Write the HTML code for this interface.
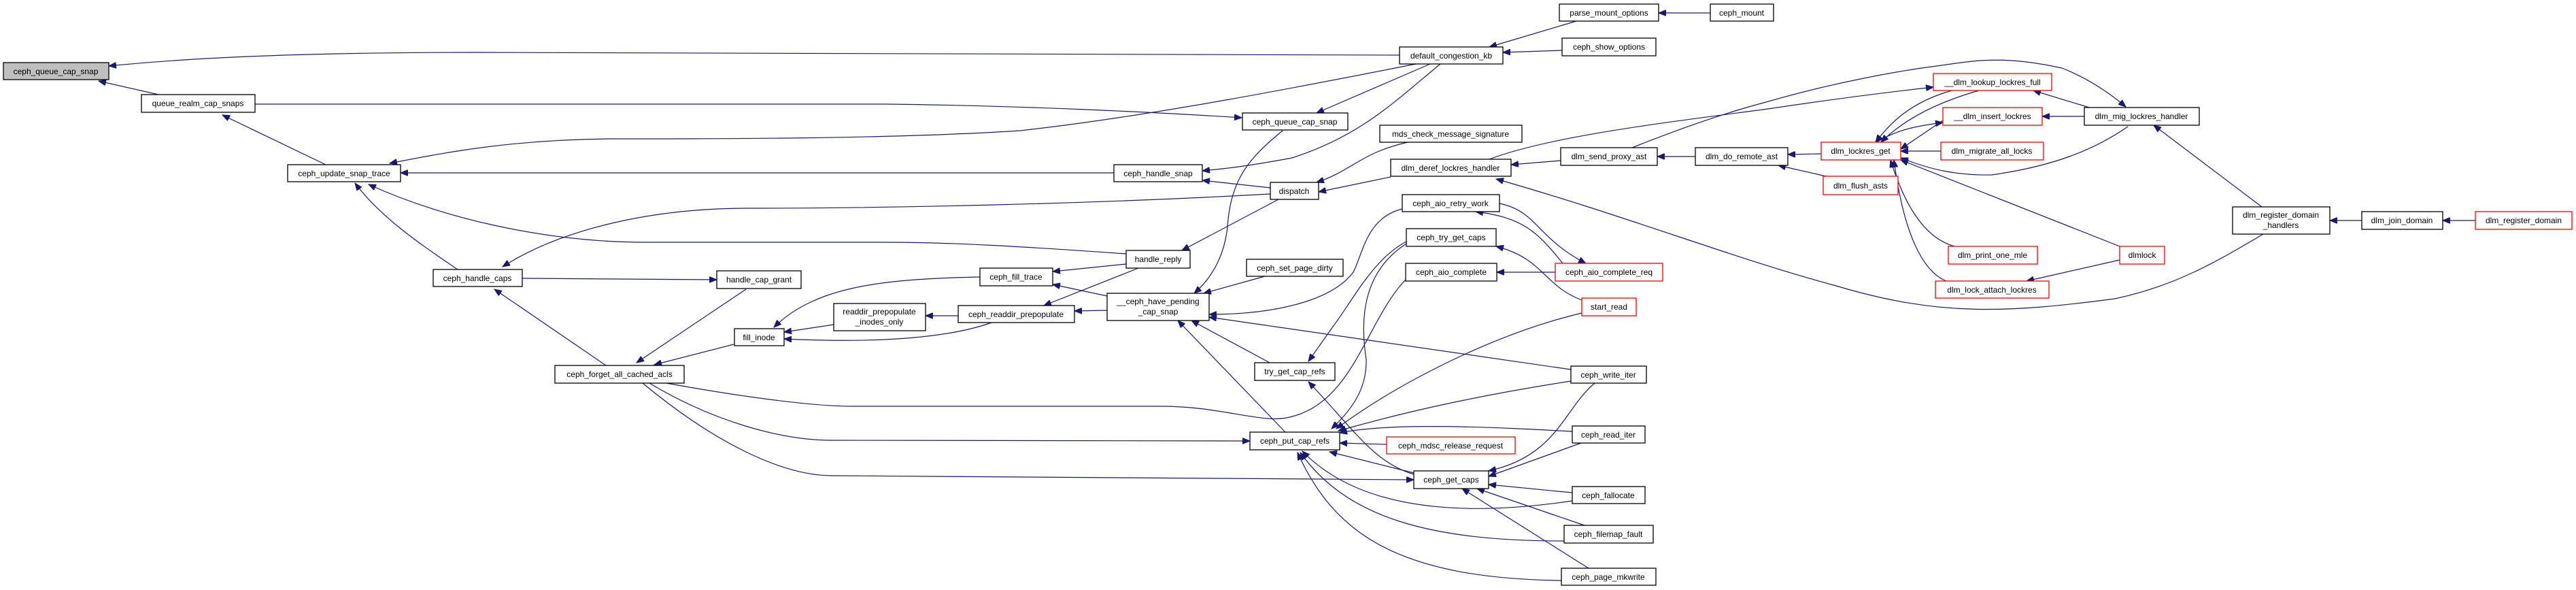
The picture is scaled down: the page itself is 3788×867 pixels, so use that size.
<!DOCTYPE html>
<html><head><meta charset="utf-8"><style>
html,body{margin:0;padding:0;background:#fff;}
svg{display:block;}
text{font-family:"Liberation Sans",Arial,sans-serif;font-size:12px;fill:#000;text-anchor:middle;}
.e{stroke:#191970;stroke-width:1.2;fill:none;}
.eh{stroke:#191970;stroke-width:1.2;fill:none;marker-end:url(#a);}
.n{fill:#fff;stroke:#000;stroke-width:1.3;}
.r{fill:#fff;stroke:#ff0000;stroke-width:1.3;}
.g{fill:#bfbfbf;stroke:#000;stroke-width:1.3;}
</style></head><body>
<svg width="3788" height="867" viewBox="0 0 3788 867" xmlns="http://www.w3.org/2000/svg">
<defs><marker id="a" markerUnits="userSpaceOnUse" markerWidth="12" markerHeight="9" refX="11" refY="4.5" orient="auto"><path d="M0,0 L11,4.5 L0,9 z" fill="#191970" stroke="#191970"/></marker></defs>

<path class="eh" d="M2058,81 L700,77 C400,77 250,88 160,97"/>
<path class="eh" d="M233,139 L145,119"/>
<path class="eh" d="M375,153 L1300,153 C1500,155 1700,165 1826,173"/>
<path class="eh" d="M479,242 L327,169"/>
<path class="eh" d="M2082,94 C1950,120 1700,170 1500,192 C1300,205 1000,204 900,204 C750,205 650,225 573,240"/>
<path class="eh" d="M1638,254 L589,254"/>
<path class="eh" d="M1656,373 C1500,362 1400,356 1300,356 L950,356 C800,356 650,320 542,271"/>
<path class="eh" d="M673,396 C620,360 560,320 522,269"/>
<path class="eh" d="M1868,285 C1600,300 1300,306 1100,306 C950,306 820,340 739,392"/>
<path class="eh" d="M768,409 L1054,411"/>
<path class="eh" d="M891,537 L727,425"/>
<path class="eh" d="M1097,425 L936,533"/>
<path class="eh" d="M1079,506 L962,536"/>
<path class="e" d="M980,563 C1100,585 1200,597 1253,597 L1708,597 C1800,597 1860,625 1900,612 C1990,590 2010,470 2067,411"/>
<path class="eh" d="M955,563 C1050,620 1150,647 1223,647 L1838,648"/>
<path class="eh" d="M945,563 C1050,650 1150,699 1223,699 L2079,705"/>
<path class="eh" d="M1226,477 L1153,488"/>
<path class="eh" d="M1441,407 C1300,410 1200,420 1138,481"/>
<path class="eh" d="M1458,474 C1400,495 1300,505 1153,498"/>
<path class="eh" d="M1409,464 L1361,464"/>
<path class="eh" d="M1656,388 L1548,399"/>
<path class="eh" d="M1674,394 L1535,449"/>
<path class="eh" d="M1628,435 L1548,418"/>
<path class="eh" d="M1628,456 L1580,457"/>
<path class="eh" d="M1868,276 L1768,265"/>
<path class="eh" d="M1880,293 L1738,368"/>
<path class="eh" d="M2118,94 C2050,150 2000,200 1900,232 C1830,245 1800,248 1768,251"/>
<path class="eh" d="M2103,94 L1936,166"/>
<path class="eh" d="M1886,192 C1840,230 1810,260 1805,333 C1800,380 1780,410 1756,431"/>
<path class="eh" d="M2070,209 C2000,225 1990,250 1936,268"/>
<path class="eh" d="M2045,260 L1939,282"/>
<path class="eh" d="M1860,406 L1770,431"/>
<path class="eh" d="M2062,307 C2010,320 2005,370 1990,400 C1960,440 1880,462 1778,462"/>
<path class="eh" d="M2310,543 L1778,466"/>
<path class="eh" d="M1867,533 L1752,471"/>
<path class="eh" d="M1890,635 L1732,471"/>
<path class="eh" d="M2068,355 C2020,380 1990,440 1960,480 L1924,531"/>
<path class="eh" d="M2079,697 C2020,680 1990,630 1924,561"/>
<path class="eh" d="M2068,358 C2003,400 2000,470 2009,528 C2010,570 1990,600 1958,630"/>
<path class="eh" d="M2326,460 C2200,490 2060,560 1965,630"/>
<path class="eh" d="M2310,560 C2150,585 2050,610 1968,633"/>
<path class="eh" d="M2312,634 C2200,628 2050,620 1970,636"/>
<path class="eh" d="M2039,653 L1970,651"/>
<path class="eh" d="M2079,695 L1955,664"/>
<path class="eh" d="M2312,736 C2150,760 2000,750 1915,663"/>
<path class="eh" d="M2300,795 C2100,795 1980,760 1912,665"/>
<path class="eh" d="M2296,853 C2050,850 1960,780 1908,665"/>
<path class="eh" d="M2345,563 C2300,600 2290,670 2189,692"/>
<path class="eh" d="M2325,651 L2189,700"/>
<path class="eh" d="M2312,724 L2189,712"/>
<path class="eh" d="M2330,772 L2172,718"/>
<path class="eh" d="M2336,835 L2150,718"/>
<path class="eh" d="M2287,400 L2201,400"/>
<path class="eh" d="M2205,299 C2260,310 2260,350 2332,387"/>
<path class="eh" d="M2298,387 C2260,340 2240,320 2170,311"/>
<path class="eh" d="M2326,441 C2270,420 2270,380 2200,362"/>
<path class="eh" d="M2295,236 L2222,242"/>
<path class="eh" d="M2493,230 L2437,230"/>
<path class="eh" d="M2678,226 L2629,227"/>
<path class="eh" d="M2685,259 L2615,243"/>
<path class="eh" d="M2318,31 L2190,69"/>
<path class="eh" d="M2297,74 L2210,77"/>
<path class="eh" d="M2515,19 L2439,19"/>
<path class="eh" d="M2190,234 C2280,200 2450,180 2600,160 C2700,145 2780,135 2843,128"/>
<path class="eh" d="M2400,217 C2480,185 2540,165 2597,150 C2700,120 2800,103 2848,97 C2900,90 2941,80 3032,100 C3070,115 3100,135 3126,157"/>
<path class="eh" d="M3328,344 C3262,383 3200,420 3110,439 C2950,460 2850,465 2700,420 C2550,380 2400,320 2200,263"/>
<path class="eh" d="M2870,133 C2810,150 2780,180 2758,209"/>
<path class="eh" d="M2910,133 C2850,150 2800,175 2766,209"/>
<path class="eh" d="M2760,209 C2790,190 2820,185 2857,180"/>
<path class="eh" d="M2857,177 L2795,219"/>
<path class="eh" d="M2854,222 L2795,222"/>
<path class="eh" d="M3129,186 C3080,220 3020,244 2929,257 C2880,258 2840,250 2795,232"/>
<path class="eh" d="M3117,362 L2795,235"/>
<path class="eh" d="M2874,362 C2830,350 2800,300 2780,235"/>
<path class="eh" d="M2862,413 C2830,400 2800,350 2785,235"/>
<path class="eh" d="M3065,171 L3003,171"/>
<path class="eh" d="M3072,158 L2990,133"/>
<path class="eh" d="M3326,304 L3167,184"/>
<path class="eh" d="M3117,382 L2980,413"/>
<path class="eh" d="M3473,324 L3426,324"/>
<path class="eh" d="M3640,324 L3592,324"/>

<rect class="g" x="5" y="92" width="155" height="25"/><text x="82" y="109">ceph_queue_cap_snap</text>
<rect class="n" x="208" y="139" width="167" height="26"/><text x="291" y="156">queue_realm_cap_snaps</text>
<rect class="n" x="423" y="242" width="166" height="25"/><text x="506" y="259">ceph_update_snap_trace</text>
<rect class="n" x="637" y="396" width="131" height="25"/><text x="702" y="413">ceph_handle_caps</text>
<rect class="n" x="816" y="537" width="190" height="26"/><text x="911" y="554">ceph_forget_all_cached_acls</text>
<rect class="n" x="1054" y="398" width="124" height="26"/><text x="1116" y="415">handle_cap_grant</text>
<rect class="n" x="1080" y="483" width="73" height="25"/><text x="1116" y="500">fill_inode</text>
<rect class="n" x="1226" y="446" width="135" height="40"/><text x="1293" y="462">readdir_prepopulate</text><text x="1293" y="477">_inodes_only</text>
<rect class="n" x="1441" y="394" width="107" height="26"/><text x="1494" y="411">ceph_fill_trace</text>
<rect class="n" x="1409" y="449" width="171" height="25"/><text x="1494" y="466">ceph_readdir_prepopulate</text>
<rect class="n" x="1656" y="368" width="94" height="26"/><text x="1703" y="385">handle_reply</text>
<rect class="n" x="1628" y="431" width="150" height="40"/><text x="1703" y="447">__ceph_have_pending</text><text x="1703" y="462">_cap_snap</text>
<rect class="n" x="1638" y="242" width="130" height="25"/><text x="1703" y="259">ceph_handle_snap</text>
<rect class="n" x="1827" y="166" width="155" height="25"/><text x="1904" y="183">ceph_queue_cap_snap</text>
<rect class="n" x="1833" y="381" width="142" height="25"/><text x="1904" y="398">ceph_set_page_dirty</text>
<rect class="n" x="1845" y="533" width="118" height="26"/><text x="1904" y="550">try_get_cap_refs</text>
<rect class="n" x="1868" y="268" width="71" height="25"/><text x="1903" y="285">dispatch</text>
<rect class="n" x="1838" y="635" width="132" height="26"/><text x="1904" y="652">ceph_put_cap_refs</text>
<rect class="n" x="2293" y="6" width="146" height="25"/><text x="2366" y="23">parse_mount_options</text>
<rect class="n" x="2515" y="6" width="93" height="25"/><text x="2561" y="23">ceph_mount</text>
<rect class="n" x="2058" y="69" width="152" height="25"/><text x="2134" y="86">default_congestion_kb</text>
<rect class="n" x="2297" y="56" width="138" height="26"/><text x="2366" y="73">ceph_show_options</text>
<rect class="n" x="2029" y="184" width="209" height="25"/><text x="2133" y="201">mds_check_message_signature</text>
<rect class="n" x="2045" y="234" width="177" height="25"/><text x="2133" y="251">dlm_deref_lockres_handler</text>
<rect class="n" x="2295" y="217" width="142" height="26"/><text x="2366" y="234">dlm_send_proxy_ast</text>
<rect class="n" x="2493" y="217" width="136" height="26"/><text x="2561" y="234">dlm_do_remote_ast</text>
<rect class="r" x="2678" y="209" width="117" height="26"/><text x="2736" y="226">dlm_lockres_get</text>
<rect class="r" x="2681" y="259" width="110" height="27"/><text x="2736" y="277">dlm_flush_asts</text>
<rect class="n" x="2062" y="286" width="143" height="25"/><text x="2133" y="303">ceph_aio_retry_work</text>
<rect class="n" x="2068" y="336" width="132" height="26"/><text x="2134" y="353">ceph_try_get_caps</text>
<rect class="n" x="2067" y="387" width="134" height="26"/><text x="2134" y="404">ceph_aio_complete</text>
<rect class="r" x="2287" y="387" width="158" height="26"/><text x="2366" y="404">ceph_aio_complete_req</text>
<rect class="r" x="2326" y="438" width="80" height="26"/><text x="2366" y="455">start_read</text>
<rect class="n" x="2310" y="538" width="111" height="25"/><text x="2365" y="555">ceph_write_iter</text>
<rect class="n" x="2312" y="626" width="107" height="25"/><text x="2365" y="643">ceph_read_iter</text>
<rect class="r" x="2039" y="642" width="189" height="25"/><text x="2133" y="659">ceph_mdsc_release_request</text>
<rect class="n" x="2079" y="692" width="110" height="26"/><text x="2134" y="709">ceph_get_caps</text>
<rect class="n" x="2312" y="715" width="107" height="25"/><text x="2365" y="732">ceph_fallocate</text>
<rect class="n" x="2300" y="772" width="131" height="26"/><text x="2365" y="789">ceph_filemap_fault</text>
<rect class="n" x="2296" y="835" width="139" height="25"/><text x="2365" y="852">ceph_page_mkwrite</text>
<rect class="r" x="2843" y="108" width="174" height="25"/><text x="2930" y="125">__dlm_lookup_lockres_full</text>
<rect class="r" x="2857" y="158" width="146" height="26"/><text x="2930" y="175">__dlm_insert_lockres</text>
<rect class="r" x="2854" y="209" width="151" height="26"/><text x="2929" y="226">dlm_migrate_all_locks</text>
<rect class="n" x="3065" y="158" width="169" height="26"/><text x="3149" y="175">dlm_mig_lockres_handler</text>
<rect class="r" x="2865" y="362" width="131" height="26"/><text x="2930" y="379">dlm_print_one_mle</text>
<rect class="r" x="3117" y="362" width="66" height="26"/><text x="3150" y="379">dlmlock</text>
<rect class="r" x="2846" y="413" width="167" height="25"/><text x="2929" y="430">dlm_lock_attach_lockres</text>
<rect class="n" x="3283" y="304" width="143" height="40"/><text x="3354" y="320">dlm_register_domain</text><text x="3354" y="335">_handlers</text>
<rect class="n" x="3473" y="311" width="119" height="26"/><text x="3532" y="328">dlm_join_domain</text>
<rect class="r" x="3640" y="311" width="142" height="26"/><text x="3711" y="328">dlm_register_domain</text>
</svg>
</body></html>
